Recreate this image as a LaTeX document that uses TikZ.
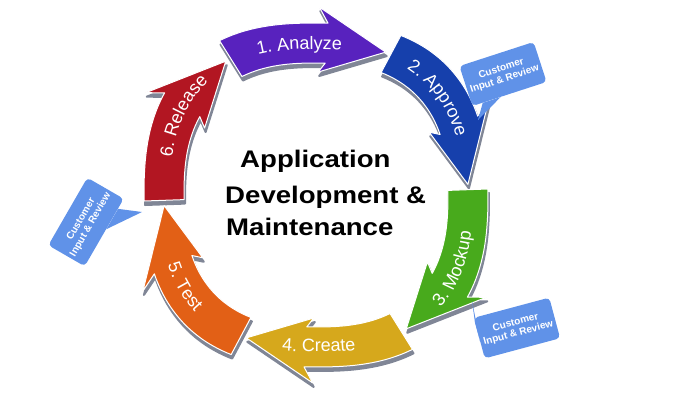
\documentclass[tikz,border=0pt]{standalone}
\usepackage{fontspec}
\setmainfont{Liberation Sans}
\usetikzlibrary{decorations.text,calc}

\definecolor{analyzecol}{RGB}{88,34,190}
\definecolor{approvecol}{RGB}{22,64,172}
\definecolor{mockupcol}{RGB}{72,170,28}
\definecolor{createcol}{RGB}{214,168,28}
\definecolor{testcol}{RGB}{226,96,22}
\definecolor{releasecol}{RGB}{178,22,34}
\definecolor{bubblecol}{RGB}{96,146,232}
\definecolor{shadowgray}{RGB}{128,134,150}

\newcommand{\ringout}{172}
\newcommand{\ringin}{132}
\newcommand{\ringmid}{152}
\newcommand{\barbout}{188}
\newcommand{\barbin}{123}
\newcommand{\phasefont}{\fontsize{18}{18}\selectfont}

% one curved phase arrow: #1 tail angle, #2 tip angle, #3 head base angle
\newcommand{\phasepath}[3]{%
  plot[domain=#1:#3, samples=25] ({rx(\x,\ringout)}, {ry(\x,\ringout)})
  -- ({rx(#3+3,\barbout)}, {ry(#3+3,\barbout)}) -- ({rx(#2,\ringmid)}, {ry(#2,\ringmid)})
  -- ({rx(#3+3,\barbin)}, {ry(#3+3,\barbin)}) -- ({rx(#3,\ringin)}, {ry(#3,\ringin)})
  -- plot[domain=#3:#1, samples=25] ({rx(\x,\ringin)}, {ry(\x,\ringin)}) -- cycle}

\begin{document}
\begin{tikzpicture}[x=1pt, y=1pt,
    declare function={
        ringr(\t,\R)=\R/(((abs(cos(\t))+0.0001)^2.5+(abs(sin(\t))+0.0001)^2.5)^0.4);
        rx(\t,\R)=cos(\t)*ringr(\t,\R);
        ry(\t,\R)=sin(\t)*ringr(\t,\R);},
    phasebody/.style={draw=white, line width=1pt, line join=round},
    phaseshadow/.style={fill=shadowgray, draw=shadowgray, line width=2pt, line join=round},
    cwlabel/.style={decorate, decoration={text along path, text align=center, text color=white,
        text={|\phasefont|#1}}},
    title/.style={font=\fontsize{24}{24}\selectfont\bfseries, xscale=1.15, anchor=base west, inner sep=0pt},
    bubble/.style={rectangle, fill=bubblecol, rounded corners=4pt, text=white,
        font=\fontsize{10}{11}\selectfont\bfseries, align=center,
        minimum width=78pt, minimum height=42pt, inner sep=2pt},
    bubbletail/.style={fill=bubblecol}]
    \useasboundingbox (0,0) rectangle (700,400);

    \begin{scope}[shift={(316,205)}]
        \foreach \tail/\tip in {122/64, 62/4, 2/-56, -58/-116, -118/-176, 182/124}
            \pgfmathsetmacro{\hb}{\tip+22}
            \fill[phaseshadow, shift={(1,-4)}] \phasepath{\tail}{\tip}{\hb};
        \foreach \tail/\tip/\col in {182/124/releasecol, -118/-176/testcol, -58/-116/createcol,
                2/-56/mockupcol, 62/4/approvecol, 122/64/analyzecol}{
            \pgfmathsetmacro{\hb}{\tip+22}
            \filldraw[phasebody, fill=\col] \phasepath{\tail}{\tip}{\hb};
        }

        % labels along the ring
        \path[cwlabel={1. Analyze}] plot[domain=141:51, samples=40] ({rx(\x,146)}, {ry(\x,146)});
        \path[cwlabel={2. Approve}] plot[domain=83:-7, samples=40] ({rx(\x,146)}, {ry(\x,146)});
        \path[cwlabel={3. Mockup}] plot[domain=-72:18, samples=40] ({rx(\x,157)}, {ry(\x,157)});
        \path[cwlabel={4. Create}] plot[domain=-134:-44, samples=40] ({rx(\x,157)}, {ry(\x,157)});
        \path[cwlabel={5. Test}] plot[domain=-191:-101, samples=40] ({rx(\x,157)}, {ry(\x,157)});
        \path[cwlabel={6. Release}] plot[domain=195:105, samples=40] ({rx(\x,146)}, {ry(\x,146)});
    \end{scope}

    \node[title] (appline) at (240,233) {Application};
    \node[title] (devline) at (225,197) {Development \&};
    \node[title] (mntline) at (226,165) {Maintenance};

    % customer review callouts
    \node[bubble, rotate=18] (review1) at (503,326) {Customer\\Input \& Review};
    \coordinate (tip1) at (478,280);
    \fill[bubbletail] ($(review1.south west)!0.14!(review1.south east)$) -- (tip1)
        -- ($(review1.south west)!0.38!(review1.south east)$) -- cycle;

    \node[bubble, rotate=60] (review2) at (86,178) {Customer\\Input \& Review};
    \coordinate (tip2) at (142,188);
    \fill[bubbletail] ($(review2.south west)!0.55!(review2.south east)$) -- (tip2)
        -- ($(review2.south west)!0.85!(review2.south east)$) -- cycle;

    \node[bubble, rotate=15] (review3) at (517,72) {Customer\\Input \& Review};
    \coordinate (tip3) at (472,99);
    \fill[bubbletail] ($(review3.north west)!0.12!(review3.south west)$) -- (tip3)
        -- ($(review3.north west)!0.6!(review3.south west)$) -- cycle;
\end{tikzpicture}
\end{document}
